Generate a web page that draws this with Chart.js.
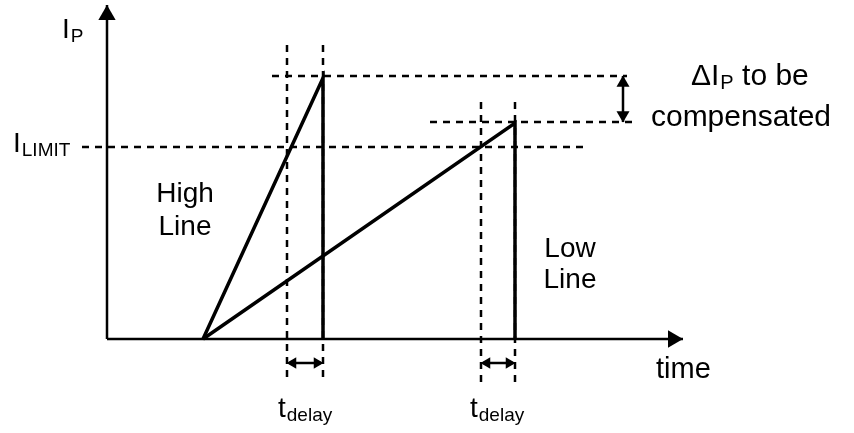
<!DOCTYPE html>
<html>
<head>
<meta charset="utf-8">
<script src="https://cdn.jsdelivr.net/npm/chart.js@4"></script>
<style>
  html, body { margin: 0; padding: 0; background: #fff; }
  canvas { display: block; }
</style>
</head>
<body>
<canvas id="pmChart" width="854" height="433"></canvas>
<script>
// Diagram units: t = time, i = peak current, origin at axes corner
const highLineT = [96, 216, 216];
const highLineI = [0, 261, 0];
const lowLineT = [96, 408, 408];
const lowLineI = [0, 216, 0];

const xAxisT = [0, 576];
const xAxisI = [0, 0];
const yAxisT = [0, 0];
const yAxisI = [0, 334];

// dashed guide lines
const limitLevelT = [-25, 480];
const limitLevelI = [192, 192];
const highPeakLevelT = [165, 520];
const highPeakLevelI = [263, 263];
const lowPeakLevelT = [323, 525];
const lowPeakLevelI = [217, 217];
const delayMarksT = [180, 216, 374, 408];
const delayMarksTop = [294, 294, 237, 237];
const delayMarksBottom = [-41, -41, -44, -44];

// double arrows
const delayArrowI = -24;
const deltaArrowT = 516;
const deltaArrowI = [263, 217];

const labelTexts = {
  ip: ['I', 'P'],
  limit: ['I', 'LIMIT'],
  high: ['High', 'Line'],
  low: ['Low', 'Line'],
  delta: ['\u0394I', 'P', ' to be', 'compensated'],
  time: 'time',
  delay: ['t', 'delay']
};

const pts = (xs, ys) => xs.map((x, k) => ({ x: x, y: ys[k] }));

const solid = (xs, ys, w) => ({
  data: pts(xs, ys), showLine: true, borderColor: '#000', borderWidth: w,
  pointRadius: 0, tension: 0, borderCapStyle: 'butt', borderJoinStyle: 'miter'
});
const dashed = (xs, ys) => ({
  data: pts(xs, ys), showLine: true, borderColor: '#000', borderWidth: 2.5,
  borderDash: [7, 6], pointRadius: 0, tension: 0
});
const head = (x, y, r, rot) => ({
  data: [{ x: x, y: y }], showLine: false, pointStyle: 'triangle',
  pointRadius: r, pointRotation: rot, backgroundColor: '#000',
  borderWidth: 0, pointBorderWidth: 0
});

const datasets = [];
datasets.push(dashed(limitLevelT, limitLevelI));
datasets.push(dashed(highPeakLevelT, highPeakLevelI));
datasets.push(dashed(lowPeakLevelT, lowPeakLevelI));
delayMarksT.forEach((t, k) => {
  datasets.push(dashed([t, t], [delayMarksTop[k], delayMarksBottom[k]]));
});
datasets.push(solid(xAxisT, xAxisI, 2.5));
datasets.push(solid(yAxisT, yAxisI, 2.5));
datasets.push(head(0, 324, 10, 0));
datasets.push(head(566, 0, 10, 90));
datasets.push(solid(highLineT, highLineI, 3.5));
datasets.push(solid(lowLineT, lowLineI, 3.5));

// t_delay arrows
[[delayMarksT[0], delayMarksT[1]], [delayMarksT[2], delayMarksT[3]]].forEach(([a, b]) => {
  datasets.push(solid([a + 2, b - 2], [delayArrowI, delayArrowI], 2.5));
  datasets.push(head(a + 6, delayArrowI, 6.5, 270));
  datasets.push(head(b - 6, delayArrowI, 6.5, 90));
});
// delta I arrow
datasets.push(solid([deltaArrowT, deltaArrowT], deltaArrowI, 2.5));
datasets.push(head(deltaArrowT, deltaArrowI[0] - 7, 7.5, 0));
datasets.push(head(deltaArrowT, deltaArrowI[1] + 7, 7.5, 180));

const FONT = '"Liberation Sans", Arial, sans-serif';

// draws main text followed by subscript, left aligned at (px, py)
function withSub(ctx, main, sub, px, py, size, subSize) {
  ctx.font = size + 'px ' + FONT;
  ctx.fillText(main, px, py);
  const w = ctx.measureText(main).width;
  ctx.font = subSize + 'px ' + FONT;
  ctx.fillText(sub, px + w + 1, py + 4);
  return w + 1 + ctx.measureText(sub).width;
}

const labelPlugin = {
  id: 'labels',
  afterDraw(chart) {
    const ctx = chart.ctx;
    const sx = chart.scales.x, sy = chart.scales.y;
    const X = v => sx.getPixelForValue(v);
    const Y = v => sy.getPixelForValue(v);
    ctx.save();
    ctx.fillStyle = '#000';
    ctx.textBaseline = 'alphabetic';
    ctx.textAlign = 'left';

    withSub(ctx, labelTexts.ip[0], labelTexts.ip[1], X(-45), Y(301), 28, 19);
    withSub(ctx, labelTexts.limit[0], labelTexts.limit[1], X(-94), Y(187), 28, 19);
    withSub(ctx, labelTexts.delay[0], labelTexts.delay[1], X(171), Y(-78), 28, 19);
    withSub(ctx, labelTexts.delay[0], labelTexts.delay[1], X(363), Y(-78), 28, 19);

    const w = withSub(ctx, labelTexts.delta[0], labelTexts.delta[1], X(584), Y(254), 30, 20);
    ctx.font = '30px ' + FONT;
    ctx.fillText(labelTexts.delta[2], X(584) + w, Y(254));

    ctx.font = '29px ' + FONT;
    ctx.fillText(labelTexts.time, X(549), Y(-39));

    ctx.textAlign = 'center';
    ctx.font = '30px ' + FONT;
    ctx.fillText(labelTexts.delta[3], X(634), Y(213));
    ctx.font = '28px ' + FONT;
    ctx.fillText(labelTexts.high[0], X(78), Y(137));
    ctx.fillText(labelTexts.high[1], X(78), Y(104));
    ctx.fillText(labelTexts.low[0], X(463), Y(82));
    ctx.fillText(labelTexts.low[1], X(463), Y(51));
    ctx.restore();
  }
};

new Chart(document.getElementById('pmChart').getContext('2d'), {
  type: 'scatter',
  data: { datasets: datasets },
  options: {
    responsive: false,
    animation: false,
    devicePixelRatio: 1,
    layout: { padding: 0, autoPadding: false },
    plugins: { legend: { display: false }, tooltip: { enabled: false } },
    scales: {
      x: { type: 'linear', display: false, min: -107, max: 747 },
      y: { type: 'linear', display: false, min: -94, max: 339 }
    }
  },
  plugins: [labelPlugin]
});
</script>
</body>
</html>
